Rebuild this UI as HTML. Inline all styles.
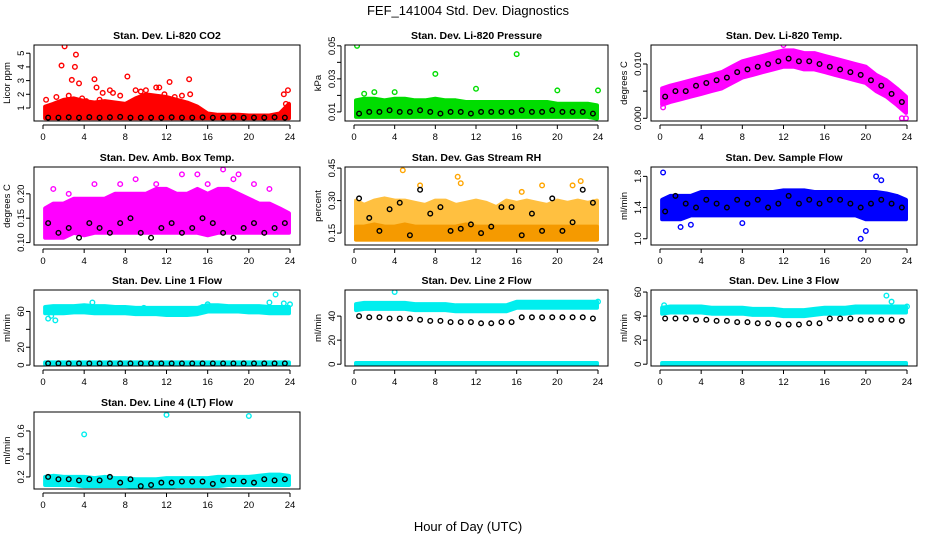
<!DOCTYPE html>
<html><head><meta charset="utf-8"><style>
body{margin:0;background:#fff;}
svg{display:block;font-family:"Liberation Sans",Arial,sans-serif;}
</style></head><body>
<svg id="chart" width="936" height="540" viewBox="0 0 936 540" xmlns="http://www.w3.org/2000/svg">
<text x="468" y="15" font-size="13" text-anchor="middle">FEF_141004  Std. Dev. Diagnostics</text>
<text x="468" y="531" font-size="13" text-anchor="middle">Hour of Day (UTC)</text>
</svg>
<script>
const HOURS=[0.2,1,2,3,4,5,6,7,8,9,10,11,12,13,14,15,16,17,18,19,20,21,22,23,23.9];
const BX=[0.5,1.5,2.5,3.5,4.5,5.5,6.5,7.5,8.5,9.5,10.5,11.5,12.5,13.5,14.5,15.5,16.5,17.5,18.5,19.5,20.5,21.5,22.5,23.5];
const XTICKS=[0,4,8,12,16,20,24];

const CO2_LO=[0.25,0.25,0.25,0.25,0.25,0.25,0.25,0.25,0.25,0.25,0.25,0.25,0.25,0.25,0.25,0.25,0.25,0.25,0.25,0.25,0.25,0.25,0.25,0.25,0.25];
const CO2_HI=[1.1,1.3,1.6,1.7,1.5,1.4,1.5,1.4,1.3,1.7,2.0,1.9,1.8,1.6,1.4,1.1,0.6,0.5,0.5,0.5,0.45,0.45,0.45,0.6,1.3];
const CO2_OX=[0.3,1.8,2.1,2.8,3.1,3.2,3.5,5,5.2,5.8,6.5,8.2,9,10,11,11.3,12.3,14.2,14.3,23.4,23.8,23.6,1.3,2.5,4.2,6.8,7.5,9.5,11.8,12.8,13.5,3.8,5.5];
const CO2_OY=[1.6,4.1,5.5,3.05,4.0,4.9,2.8,3.1,2.5,2.1,2.3,3.3,2.3,2.3,2.5,2.5,2.9,3.1,2.0,2.0,2.3,1.3,1.8,1.9,1.5,2.1,1.9,2.2,2.0,1.8,1.9,1.7,1.6];
const CO2_BY=[0.3,0.3,0.32,0.3,0.33,0.3,0.32,0.35,0.3,0.3,0.3,0.3,0.32,0.3,0.3,0.32,0.3,0.3,0.32,0.3,0.3,0.3,0.32,0.3];

const PR_LO=[0.007,0.007,0.007,0.007,0.007,0.007,0.007,0.007,0.007,0.007,0.007,0.007,0.007,0.007,0.007,0.007,0.007,0.007,0.007,0.007,0.007,0.007,0.007,0.007,0.006];
const PR_HI=[0.017,0.018,0.018,0.017,0.018,0.018,0.017,0.017,0.018,0.017,0.017,0.016,0.016,0.016,0.016,0.016,0.016,0.016,0.016,0.016,0.015,0.015,0.015,0.015,0.014];
const PR_OX=[0.3,1,2,4,8,12,16,20,24];
const PR_OY=[0.050,0.021,0.022,0.022,0.033,0.024,0.045,0.023,0.023];
const PR_BY=[0.009,0.010,0.010,0.011,0.010,0.010,0.011,0.010,0.009,0.010,0.010,0.009,0.010,0.010,0.010,0.010,0.011,0.010,0.010,0.011,0.010,0.010,0.010,0.009];

const TP_LO=[0.0025,0.003,0.0035,0.004,0.0045,0.005,0.0055,0.0065,0.0075,0.008,0.0085,0.009,0.0095,0.0095,0.009,0.009,0.0085,0.008,0.0075,0.007,0.0065,0.005,0.004,0.0025,0.001];
const TP_HI=[0.0055,0.006,0.0065,0.007,0.0075,0.008,0.0085,0.0095,0.0105,0.011,0.0115,0.012,0.0125,0.0125,0.012,0.012,0.0115,0.011,0.0105,0.010,0.0095,0.008,0.007,0.0055,0.004];
const TP_OX=[0.3,12,23.5,23.9];
const TP_OY=[0.002,0.0135,0.0,0.0];
const TP_BY=[0.004,0.005,0.005,0.006,0.0065,0.007,0.0075,0.0085,0.009,0.0095,0.010,0.0105,0.011,0.0105,0.0105,0.010,0.0095,0.009,0.0085,0.008,0.007,0.006,0.0045,0.003];

const AB_LO=[0.11,0.11,0.11,0.12,0.115,0.12,0.12,0.12,0.12,0.12,0.12,0.12,0.12,0.12,0.12,0.12,0.115,0.12,0.12,0.12,0.12,0.12,0.12,0.12,0.12];
const AB_HI=[0.17,0.18,0.18,0.19,0.19,0.19,0.19,0.2,0.2,0.2,0.2,0.21,0.21,0.2,0.2,0.21,0.2,0.21,0.21,0.2,0.19,0.18,0.18,0.17,0.16];
const AB_OX=[1,2.5,5,7.5,9,11,13.5,15,16,17.5,18.5,19,20.5,22];
const AB_OY=[0.21,0.2,0.22,0.22,0.23,0.22,0.24,0.24,0.22,0.25,0.23,0.24,0.22,0.21];
const AB_BY=[0.14,0.12,0.13,0.11,0.14,0.13,0.12,0.14,0.15,0.12,0.11,0.13,0.14,0.12,0.13,0.15,0.14,0.12,0.11,0.13,0.14,0.12,0.13,0.14];

const RH_LO=[0.12,0.12,0.12,0.12,0.12,0.12,0.12,0.12,0.12,0.12,0.12,0.12,0.12,0.12,0.12,0.12,0.12,0.12,0.12,0.12,0.12,0.12,0.12,0.12,0.12];
const RH_MID=[0.18,0.18,0.19,0.18,0.18,0.19,0.18,0.18,0.18,0.18,0.18,0.19,0.18,0.18,0.18,0.18,0.18,0.18,0.18,0.18,0.18,0.18,0.18,0.18,0.18];
const RH_HI=[0.3,0.28,0.3,0.31,0.3,0.3,0.29,0.28,0.3,0.3,0.28,0.29,0.3,0.29,0.27,0.3,0.29,0.3,0.29,0.28,0.3,0.29,0.3,0.29,0.3];
const RH_OX=[4.8,6.5,10.2,10.5,16.5,18.5,21.5,22.3];
const RH_OY=[0.44,0.37,0.41,0.38,0.34,0.37,0.37,0.39];
const RH_BY=[0.31,0.22,0.16,0.26,0.29,0.14,0.35,0.24,0.27,0.16,0.17,0.19,0.15,0.18,0.27,0.27,0.14,0.24,0.16,0.31,0.16,0.20,0.35,0.29];

const SF_LO=[1.25,1.25,1.25,1.3,1.3,1.3,1.3,1.3,1.3,1.3,1.3,1.3,1.3,1.3,1.3,1.3,1.3,1.3,1.3,1.3,1.25,1.25,1.25,1.25,1.25];
const SF_HI=[1.5,1.55,1.55,1.55,1.6,1.6,1.6,1.6,1.6,1.6,1.6,1.6,1.62,1.62,1.62,1.6,1.6,1.6,1.6,1.6,1.6,1.6,1.58,1.55,1.5];
const SF_OX=[0.3,2,19.5,20,21,21.5,3,8];
const SF_OY=[1.85,1.15,1.0,1.1,1.8,1.75,1.18,1.2];
const SF_BY=[1.35,1.55,1.45,1.4,1.5,1.45,1.4,1.5,1.45,1.5,1.4,1.45,1.55,1.45,1.5,1.45,1.5,1.5,1.45,1.4,1.45,1.5,1.45,1.4];

const L1_LO=[58,58,58,59,59,58,58,58,58,57,57,57,56,56,56,57,60,60,60,60,59,59,58,58,58];
const L1_HI=[65,66,66,66,67,66,66,65,65,64,64,64,64,64,64,64,67,67,66,66,66,66,65,65,65];
const L1_OX=[0.5,0.8,1.2,4.8,9.8,15.5,16,22,22.6,23.4,24];
const L1_OY=[52,55,50,70,64,65,68,70,79,69,68];
const L1_BY=[2,2,2,2,2,2,2,2,2,2,2,2,2,2,2,2,2,2,2,2,2,2,2,2];
const L1Z_LO=[1,1,1,1,1,1,1,1,1,1,1,1,1,1,1,1,1,1,1,1,1,1,1,1,1];
const L1Z_HI=[3,3,3,3,3,3,3,3,3,3,3,3,3,3,3,3,3,3,3,3,3,3,3,3,3];

const L2_LO=[45,46,46,46,46,46,45,45,45,45,44,44,44,44,44,44,47,47,47,47,47,47,47,47,47];
const L2_HI=[50,51,51,51,51,51,50,50,50,50,49,49,49,49,49,49,52,52,52,52,52,52,52,52,52];
const L2_OX=[4,24];
const L2_OY=[60,52];
const L2_BY=[40,39,39,38,38,38,37,36,36,35,35,35,34,34,35,35,39,39,39,39,39,39,39,38];
const LZ_LO=[-0.5,-0.5,-0.5,-0.5,-0.5,-0.5,-0.5,-0.5,-0.5,-0.5,-0.5,-0.5,-0.5,-0.5,-0.5,-0.5,-0.5,-0.5,-0.5,-0.5,-0.5,-0.5,-0.5,-0.5,-0.5];
const LZ_HI=[1,1,1,1,1,1,1,1,1,1,1,1,1,1,1,1,1,1,1,1,1,1,1,1,1];

const L3_LO=[42,43,43,43,43,42,42,42,42,41,41,41,40,40,40,41,42,42,42,43,43,43,43,43,43];
const L3_HI=[47,48,48,48,48,47,47,47,47,46,46,46,45,45,45,46,47,47,47,48,48,48,48,48,48];
const L3_OX=[0.4,22,22.5,24];
const L3_OY=[49,57,52,48];
const L3_BY=[38,38,38,37,37,36,36,35,35,34,34,33,33,33,34,34,38,38,38,37,37,37,37,36];

const L4_LO=[0.13,0.13,0.13,0.13,0.12,0.12,0.12,0.12,0.12,0.11,0.11,0.11,0.11,0.12,0.12,0.12,0.12,0.12,0.13,0.13,0.13,0.13,0.13,0.13,0.13];
const L4_HI=[0.2,0.21,0.2,0.2,0.2,0.19,0.2,0.19,0.19,0.18,0.18,0.18,0.19,0.19,0.19,0.19,0.19,0.2,0.2,0.2,0.2,0.21,0.22,0.22,0.21];
const L4_OX=[4,12,20];
const L4_OY=[0.57,0.74,0.73];
const L4_BY=[0.2,0.18,0.18,0.17,0.18,0.17,0.2,0.15,0.18,0.12,0.13,0.15,0.15,0.16,0.16,0.16,0.14,0.17,0.17,0.16,0.15,0.18,0.17,0.18];

const COLS=[[34,300],[345,608],[651,917]];
const ROWS=[[45,121],[167,245],[290,366],[412,489]];

const panels=[
 {name:'co2',title:'Stan. Dev. Li-820 CO2',ylab:'Licor ppm',c:0,r:0,ymin:0.05,ymax:5.6,yt:[1,2,3,4,5],yl:['1','2','3','4','5'],
  bands:[[CO2_LO,CO2_HI,'#ff0000']],ox:CO2_OX,oy:CO2_OY,oc:'#ff0000',by:CO2_BY},
 {name:'pressure',title:'Stan. Dev. Li-820 Pressure',ylab:'kPa',c:1,r:0,ymin:0.0045,ymax:0.0505,yt:[0.01,0.02,0.03,0.04,0.05],yl:['0.01','','0.03','','0.05'],
  bands:[[PR_LO,PR_HI,'#00dd00']],ox:PR_OX,oy:PR_OY,oc:'#00dd00',by:PR_BY},
 {name:'temp',title:'Stan. Dev. Li-820 Temp.',ylab:'degrees C',c:2,r:0,ymin:-0.0005,ymax:0.0135,yt:[0,0.005,0.01],yl:['0.000','','0.010'],
  bands:[[TP_LO,TP_HI,'#ff00ff']],ox:TP_OX,oy:TP_OY,oc:'#ff00ff',by:TP_BY},
 {name:'amb-box',title:'Stan. Dev. Amb. Box Temp.',ylab:'degrees C',c:0,r:1,ymin:0.095,ymax:0.255,yt:[0.1,0.15,0.2],yl:['0.10','0.15','0.20'],
  bands:[[AB_LO,AB_HI,'#ff00ff']],ox:AB_OX,oy:AB_OY,oc:'#ff00ff',by:AB_BY},
 {name:'gas-rh',title:'Stan. Dev. Gas Stream RH',ylab:'percent',c:1,r:1,ymin:0.095,ymax:0.455,yt:[0.15,0.3,0.45],yl:['0.15','0.30','0.45'],
  bands:[[RH_LO,RH_HI,'#ffc040'],[RH_LO,RH_MID,'#f59a00']],ox:RH_OX,oy:RH_OY,oc:'#ffa500',by:RH_BY},
 {name:'sample-flow',title:'Stan. Dev. Sample Flow',ylab:'ml/min',c:2,r:1,ymin:0.92,ymax:1.92,yt:[1.0,1.4,1.8],yl:['1.0','1.4','1.8'],
  bands:[[SF_LO,SF_HI,'#0000ff']],ox:SF_OX,oy:SF_OY,oc:'#0000ff',by:SF_BY},
 {name:'line1',title:'Stan. Dev. Line 1 Flow',ylab:'ml/min',c:0,r:2,ymin:-1,ymax:84,yt:[0,20,40,60],yl:['0','20','','60'],
  bands:[[L1_LO,L1_HI,'#00eeee'],[L1Z_LO,L1Z_HI,'#00eeee']],ox:L1_OX,oy:L1_OY,oc:'#00eeee',by:L1_BY},
 {name:'line2',title:'Stan. Dev. Line 2 Flow',ylab:'ml/min',c:1,r:2,ymin:-1.5,ymax:61.7,yt:[0,20,40],yl:['0','20','40'],
  bands:[[L2_LO,L2_HI,'#00eeee'],[LZ_LO,LZ_HI,'#00eeee']],ox:L2_OX,oy:L2_OY,oc:'#00eeee',by:L2_BY},
 {name:'line3',title:'Stan. Dev. Line 3 Flow',ylab:'ml/min',c:2,r:2,ymin:-1.5,ymax:61.7,yt:[0,20,40,60],yl:['0','20','40','60'],
  bands:[[L3_LO,L3_HI,'#00eeee'],[LZ_LO,LZ_HI,'#00eeee']],ox:L3_OX,oy:L3_OY,oc:'#00eeee',by:L3_BY},
 {name:'line4',title:'Stan. Dev. Line 4 (LT) Flow',ylab:'ml/min',c:0,r:3,ymin:0.095,ymax:0.765,yt:[0.2,0.4,0.6],yl:['0.2','0.4','0.6'],
  bands:[[L4_LO,L4_HI,'#00eeee']],ox:L4_OX,oy:L4_OY,oc:'#00eeee',by:L4_BY}
];

const svg=document.getElementById('chart');
const NS='http://www.w3.org/2000/svg';
function mk(tag,attrs,parent){const e=document.createElementNS(NS,tag);for(const k in attrs)e.setAttribute(k,attrs[k]);parent.appendChild(e);return e;}

panels.forEach(p=>{
  const [L,R]=COLS[p.c],[T,B]=ROWS[p.r];
  const xs=h=>L+9+(R-L-19)*h/24;
  const ys=v=>B-(v-p.ymin)/(p.ymax-p.ymin)*(B-T);
  const g=mk('g',{},svg);
  
  
  const cp=mk('clipPath',{id:'cp-'+p.name},g);
  mk('rect',{x:L,y:T,width:R-L,height:B-T},cp);
  const t=mk('text',{x:(L+R)/2,y:T-6,'font-size':10.5,'font-weight':'bold','text-anchor':'middle'},g);
  t.textContent=p.title;
  
  
  const yl=mk('text',{transform:`translate(${L-24},${(T+B)/2}) rotate(-90)`,'font-size':9.5,'text-anchor':'middle'},g);
  yl.textContent=p.ylab;
  
  
  const data=mk('g',{'clip-path':`url(#cp-${p.name})`},g);
  p.bands.forEach(b=>{
    const [lo,hi,col]=b;
    let d='';
    HOURS.forEach((h,i)=>{d+=(i?'L':'M')+xs(h).toFixed(1)+','+ys(hi[i]).toFixed(1);});
    for(let i=HOURS.length-1;i>=0;i--)d+='L'+xs(HOURS[i]).toFixed(1)+','+ys(lo[i]).toFixed(1);
    const band=mk('path',{d:d+'Z',fill:col,stroke:col,'stroke-width':4,'stroke-linejoin':'round'},data);
    
    
  });
  p.ox.forEach((h,i)=>{
    const c=mk('circle',{cx:xs(h),cy:ys(p.oy[i]),r:2.3,fill:'none',stroke:p.oc,'stroke-width':1.4},data);
    
    
  });
  BX.forEach((h,i)=>{
    const c=mk('circle',{cx:xs(h),cy:ys(p.by[i]),r:2.3,fill:'none',stroke:'#000','stroke-width':1.4},data);
    
    
  });
  const box=mk('rect',{x:L,y:T,width:R-L,height:B-T,fill:'none',stroke:'#000','stroke-width':1},g);
  
  
  mk('line',{x1:xs(0),x2:xs(24),y1:B+4,y2:B+4,stroke:'#000'},g);
  XTICKS.forEach(h=>{
    mk('line',{x1:xs(h),x2:xs(h),y1:B+4,y2:B+8,stroke:'#000'},g);
    const tl=mk('text',{x:xs(h),y:B+19,'font-size':9.5,'text-anchor':'middle'},g);
    tl.textContent=h;
    
    
  });
  mk('line',{x1:L-4,x2:L-4,y1:ys(p.yt[0]),y2:ys(p.yt[p.yt.length-1]),stroke:'#000'},g);
  p.yt.forEach((v,i)=>{
    const y=ys(v);
    mk('line',{x1:L-8,x2:L-4,y1:y,y2:y,stroke:'#000'},g);
    if(p.yl[i]){
      const tl=mk('text',{transform:`translate(${L-10},${y}) rotate(-90)`,'font-size':9.5,'text-anchor':'middle'},g);
      tl.textContent=p.yl[i];
      
      
    }
  });
});
</script>
</body></html>
